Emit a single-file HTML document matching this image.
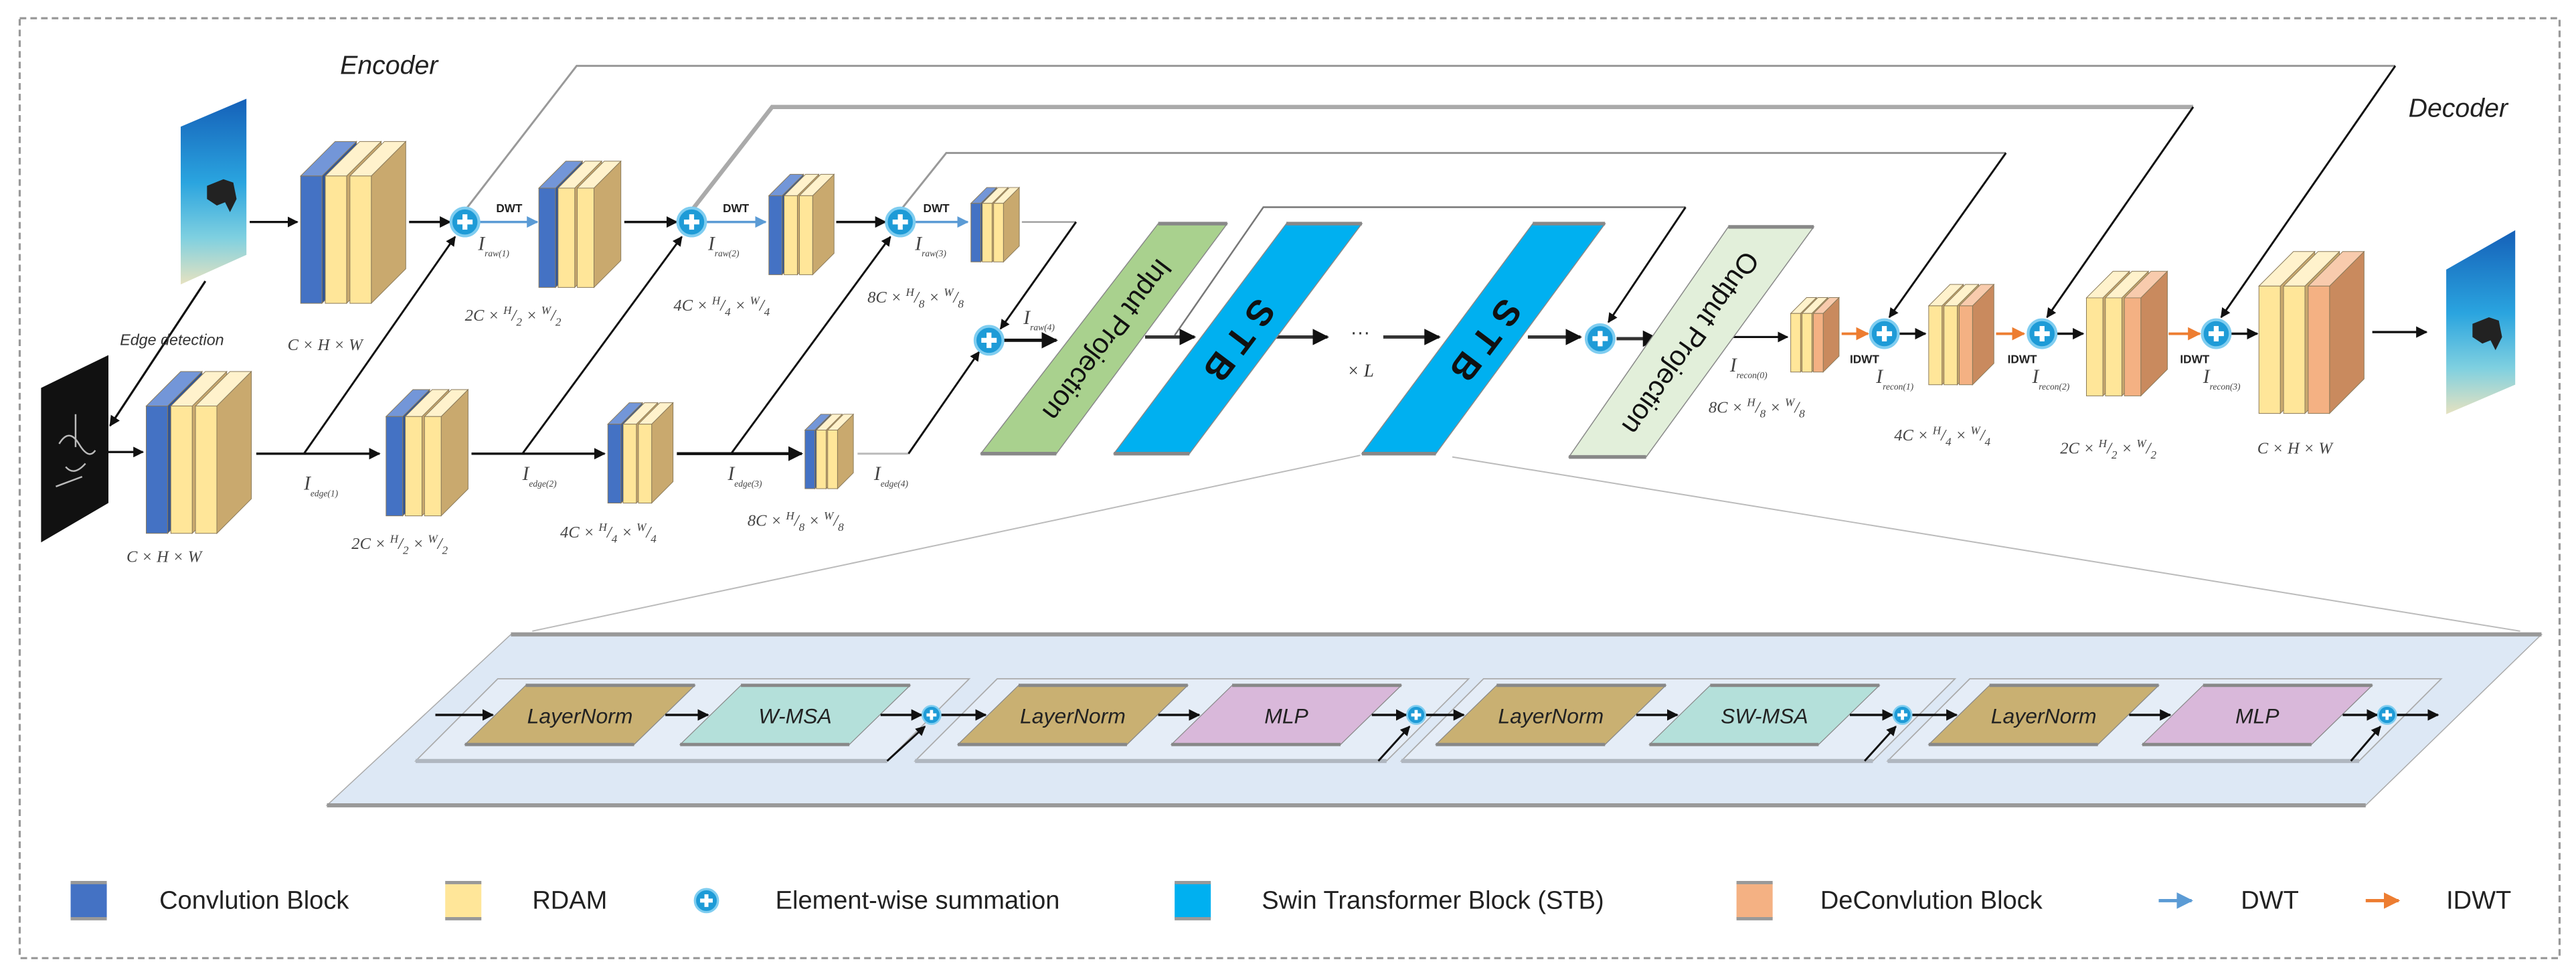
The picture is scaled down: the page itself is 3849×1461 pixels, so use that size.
<!DOCTYPE html>
<html><head><meta charset="utf-8"><style>
html,body{margin:0;padding:0;background:#fff;width:3849px;height:1461px;overflow:hidden}
svg{display:block}
.s{font-family:"Liberation Sans",sans-serif}
.m{font-family:"Liberation Serif",serif;font-style:italic;fill:#444}
</style></head><body>
<svg id="S" width="3849" height="1461" viewBox="0 0 1568 595" xmlns="http://www.w3.org/2000/svg">
<defs>
<marker id="ah" viewBox="0 0 10 10" refX="9" refY="5" markerWidth="5" markerHeight="5" orient="auto"><path d="M0,0L10,5L0,10z" fill="#111"/></marker>
<marker id="ahb" viewBox="0 0 10 10" refX="9" refY="5" markerWidth="5" markerHeight="5" orient="auto"><path d="M0,0L10,5L0,10z" fill="#5B9BD5"/></marker>
<marker id="aho" viewBox="0 0 10 10" refX="9" refY="5" markerWidth="5" markerHeight="5" orient="auto"><path d="M0,0L10,5L0,10z" fill="#ED7D31"/></marker>
<linearGradient id="sea" x1="0" y1="0" x2="0" y2="1"><stop offset="0" stop-color="#1560b8"/><stop offset="0.45" stop-color="#2aa4df"/><stop offset="0.75" stop-color="#7fd0e0"/><stop offset="1" stop-color="#e6e2c0"/></linearGradient>
</defs>
<rect x="12" y="11" width="1546" height="572" fill="none" stroke="#999" stroke-width="1.3" stroke-dasharray="4 2.5"/>
<g id="G"></g>
<!-- images -->
<polygon points="110,77 150,60 150,155 110,173" fill="url(#sea)"/>
<path d="M126,113 l10,-4 6,2 2,10 -4,8 -3,-6 -5,2 -6,-4z" fill="#222"/>
<polygon points="25,236 66,216 66,306 25,330" fill="#111"/>
<path d="M36,270 q6,-10 12,0 t10,4 M40,284 q5,6 12,-2 M46,252 l0,20 M34,296 l16,-6" stroke="#bbb" stroke-width="1" fill="none"/>
<polygon points="1489,164 1531,140 1531,234 1489,252" fill="url(#sea)"/>
<path d="M1505,197 l10,-4 6,2 2,10 -4,8 -3,-6 -5,2 -6,-4z" fill="#222"/>
<!-- texts -->
<text x="207" y="45" class="s" font-size="16" font-style="italic" fill="#222">Encoder</text>
<text x="1466" y="71" class="s" font-size="16" font-style="italic" fill="#222">Decoder</text>
<text x="73" y="210" class="s" font-size="9.5" font-style="italic" fill="#333">Edge detection</text>
<g class="m" font-size="10">
<text x="175" y="213">C × H × W</text>
<text x="77" y="342">C × H × W</text>
<text x="1374" y="276">C × H × W</text>
<text x="283" y="195">2C × <tspan dy="-4" font-size="7">H</tspan><tspan dy="4">/</tspan><tspan dy="3" font-size="7">2</tspan><tspan dy="-3"> × </tspan><tspan dy="-4" font-size="7">W</tspan><tspan dy="4">/</tspan><tspan dy="3" font-size="7">2</tspan></text>
<text x="214" y="334">2C × <tspan dy="-4" font-size="7">H</tspan><tspan dy="4">/</tspan><tspan dy="3" font-size="7">2</tspan><tspan dy="-3"> × </tspan><tspan dy="-4" font-size="7">W</tspan><tspan dy="4">/</tspan><tspan dy="3" font-size="7">2</tspan></text>
<text x="1254" y="276">2C × <tspan dy="-4" font-size="7">H</tspan><tspan dy="4">/</tspan><tspan dy="3" font-size="7">2</tspan><tspan dy="-3"> × </tspan><tspan dy="-4" font-size="7">W</tspan><tspan dy="4">/</tspan><tspan dy="3" font-size="7">2</tspan></text>
<text x="410" y="189">4C × <tspan dy="-4" font-size="7">H</tspan><tspan dy="4">/</tspan><tspan dy="3" font-size="7">4</tspan><tspan dy="-3"> × </tspan><tspan dy="-4" font-size="7">W</tspan><tspan dy="4">/</tspan><tspan dy="3" font-size="7">4</tspan></text>
<text x="341" y="327">4C × <tspan dy="-4" font-size="7">H</tspan><tspan dy="4">/</tspan><tspan dy="3" font-size="7">4</tspan><tspan dy="-3"> × </tspan><tspan dy="-4" font-size="7">W</tspan><tspan dy="4">/</tspan><tspan dy="3" font-size="7">4</tspan></text>
<text x="1153" y="268">4C × <tspan dy="-4" font-size="7">H</tspan><tspan dy="4">/</tspan><tspan dy="3" font-size="7">4</tspan><tspan dy="-3"> × </tspan><tspan dy="-4" font-size="7">W</tspan><tspan dy="4">/</tspan><tspan dy="3" font-size="7">4</tspan></text>
<text x="528" y="184">8C × <tspan dy="-4" font-size="7">H</tspan><tspan dy="4">/</tspan><tspan dy="3" font-size="7">8</tspan><tspan dy="-3"> × </tspan><tspan dy="-4" font-size="7">W</tspan><tspan dy="4">/</tspan><tspan dy="3" font-size="7">8</tspan></text>
<text x="455" y="320">8C × <tspan dy="-4" font-size="7">H</tspan><tspan dy="4">/</tspan><tspan dy="3" font-size="7">8</tspan><tspan dy="-3"> × </tspan><tspan dy="-4" font-size="7">W</tspan><tspan dy="4">/</tspan><tspan dy="3" font-size="7">8</tspan></text>
<text x="1040" y="251">8C × <tspan dy="-4" font-size="7">H</tspan><tspan dy="4">/</tspan><tspan dy="3" font-size="7">8</tspan><tspan dy="-3"> × </tspan><tspan dy="-4" font-size="7">W</tspan><tspan dy="4">/</tspan><tspan dy="3" font-size="7">8</tspan></text>
<text x="291" y="152" font-size="12">I<tspan dy="4" font-size="5.5">raw(1)</tspan></text>
<text x="431" y="152" font-size="12">I<tspan dy="4" font-size="5.5">raw(2)</tspan></text>
<text x="557" y="152" font-size="12">I<tspan dy="4" font-size="5.5">raw(3)</tspan></text>
<text x="623" y="197" font-size="12">I<tspan dy="4" font-size="5.5">raw(4)</tspan></text>
<text x="185" y="298" font-size="12">I<tspan dy="4" font-size="5.5">edge(1)</tspan></text>
<text x="318" y="292" font-size="12">I<tspan dy="4" font-size="5.5">edge(2)</tspan></text>
<text x="443" y="292" font-size="12">I<tspan dy="4" font-size="5.5">edge(3)</tspan></text>
<text x="532" y="292" font-size="12">I<tspan dy="4" font-size="5.5">edge(4)</tspan></text>
<text x="1053" y="226" font-size="12">I<tspan dy="4" font-size="5.5">recon(0)</tspan></text>
<text x="1142" y="233" font-size="12">I<tspan dy="4" font-size="5.5">recon(1)</tspan></text>
<text x="1237" y="233" font-size="12">I<tspan dy="4" font-size="5.5">recon(2)</tspan></text>
<text x="1341" y="233" font-size="12">I<tspan dy="4" font-size="5.5">recon(3)</tspan></text>
<text x="820" y="229" font-size="11" fill="#333">× L</text>
</g>
<g class="s" font-size="7" font-weight="bold" fill="#222">
<text x="302" y="129">DWT</text><text x="440" y="129">DWT</text><text x="562" y="129">DWT</text>
<text x="1126" y="221">IDWT</text><text x="1222" y="221">IDWT</text><text x="1327" y="221">IDWT</text>
</g>
<text x="822" y="206" class="s" font-size="12" fill="#333">···</text>
<g id="T"></g>
<!-- legend -->
<g class="s" font-size="15.5" fill="#222">
<text x="97" y="553">Convlution Block</text>
<text x="324" y="553">RDAM</text>
<text x="472" y="553">Element-wise summation</text>
<text x="768" y="553">Swin Transformer Block (STB)</text>
<text x="1108" y="553">DeConvlution Block</text>
<text x="1364" y="553">DWT</text>
<text x="1489" y="553">IDWT</text>
</g>
</svg>
<script>
const NS="http://www.w3.org/2000/svg",G=document.getElementById('G');
function el(t,a,p){const e=document.createElementNS(NS,t);for(const k in a)e.setAttribute(k,a[k]);(p||G).appendChild(e);return e;}
function poly(pts,f,st,sw){return el('polygon',{points:pts.map(p=>p.join(',')).join(' '),fill:f,stroke:st||'none','stroke-width':sw||0});}
function line(x1,y1,x2,y2,c,w,m){const a={x1,y1,x2,y2,stroke:c||'#111','stroke-width':w||1.3};if(m)a['marker-end']='url(#'+m+')';return el('line',a);}
function pl(pts,c,w,m){const a={points:pts.map(p=>p.join(',')).join(' '),fill:'none',stroke:c,'stroke-width':w};if(m)a['marker-end']='url(#'+m+')';return el('polyline',a);}
const C={b:['#4472C4','#7396D8','#2F5597'],y:['#FFE699','#FFF2CC','#C9A96E'],o:['#F4B183','#F8CBAD','#C98A5E']};
function block(x,yb,s,cols){const w=13*s,st=15*s,h=77.5*s,dx=21*s,dy=21*s,y=yb+dy;
 cols.forEach((c,i)=>{const fx=x+i*st,k=C[c];
  poly([[fx+w,y],[fx+w+dx,y-dy],[fx+w+dx,y+h-dy],[fx+w,y+h]],c==='b'?k[2]:(c==='o'?k[2]:'#C9A96E'),'#8a7a5a',0.4);
  poly([[fx,y],[fx+dx,y-dy],[fx+w+dx,y-dy],[fx+w,y]],k[1],'#8a7a5a',0.4);
  poly([[fx,y],[fx+w,y],[fx+w,y+h],[fx,y+h]],k[0],'#8a7a5a',0.4);});}
function plus(x,y,r){el('circle',{cx:x,cy:y,r:r,fill:'#1E9BD7',stroke:'#7fcdf0','stroke-width':r*0.2});
 line(x-r*0.55,y,x+r*0.55,y,'#fff',r*0.35);line(x,y-r*0.55,x,y+r*0.55,'#fff',r*0.35);}
// skip lines top
pl([[283,128],[351,40],[1458,40]],'#999',1.2);
pl([[421,128],[470,65],[1335,65]],'#aaa',2.6);
pl([[548,128],[576,93],[1221,93]],'#999',1.2);
line(1458,40,1352,193,'#111',1.2,'ah');
line(1335,65,1246,193,'#111',1.2,'ah');
line(1221,93,1150,193,'#111',1.2,'ah');
// STB bracket
pl([[715,204],[769,126],[1026,126]],'#777',1);
line(1026,126,979,196,'#111',1.2,'ah');
// funnel
line(828,277,324,384,'#bbb',0.8);line(884,278,1534,384,'#bbb',0.8);
// edge detection
line(125,171,67,259,'#111',1.3,'ah');
line(66,275,87,275,'#111',1.3,'ah');
line(152,135,181,135,'#111',1.3,'ah');
// encoder top row
line(249,135,274,135,'#111',1.4,'ah');line(291,135,327,135,'#5B9BD5',1.4,'ahb');
line(380,135,412,135,'#111',1.4,'ah');line(430,135,466,135,'#5B9BD5',1.4,'ahb');
line(509,135,539,135,'#111',1.4,'ah');line(557,135,589,135,'#5B9BD5',1.4,'ahb');
line(622,135,655,135,'#999',0.9);line(655,135,609,200,'#111',1.2,'ah');
// bottom row
line(156,276,231,276,'#111',1.4,'ah');line(287,276,368,276,'#111',1.4,'ah');
line(412,276,488,276,'#111',1.8,'ah');line(522,276,553,276,'#bbb',1.2);
line(185,276,277,144,'#111',1.2,'ah');line(318,276,415,144,'#111',1.2,'ah');
line(445,276,542,144,'#111',1.2,'ah');line(553,276,596,214,'#111',1.2,'ah');
// middle
line(611,207,643,207,'#111',2,'ah');
line(697,205,727,205,'#333',2,'ah');line(776,205,808,205,'#333',2,'ah');
line(842,205,876,205,'#333',2,'ah');line(930,205,962,205,'#333',2,'ah');
line(984,206,1009,206,'#333',2,'ah');line(1053,205,1088,205,'#111',1.3,'ah');
// decoder arrows
line(1121,203,1137,203,'#ED7D31',1.6,'aho');line(1156,203,1172,203,'#111',1.4,'ah');
line(1215,203,1232,203,'#ED7D31',1.6,'aho');line(1252,203,1268,203,'#111',1.4,'ah');
line(1320,203,1339,203,'#ED7D31',1.6,'aho');line(1358,203,1374,203,'#111',1.4,'ah');
line(1444,202,1477,202,'#111',1.4,'ah');
// parallelograms
function para(tl,tr,bl,br,ty,by,f){poly([[tl,ty],[tr,ty],[br,by],[bl,by]],f,'#888',0.6);line(tl,ty,tr,ty,'#888',2.2);line(bl,by,br,by,'#888',2.2);}
para(705,747,597,643,136,276,'#A9D18E');
para(783,829,678,724,136,276,'#00B0F0');
para(933,977,829,874,136,276,'#00B0F0');
para(1052,1104,955,1002,138,278,'#E2EFDA');
// blocks
block(183,86,1,['b','y','y']);block(328,98,0.78,['b','y','y']);block(468,106,0.62,['b','y','y']);block(591,114,0.46,['b','y','y']);
block(89,226,1,['b','y','y']);block(235,237,0.78,['b','y','y']);block(370,245,0.62,['b','y','y']);block(490,252,0.46,['b','y','y']);
block(1090,181,0.46,['y','y','o']);block(1174,173,0.62,['y','y','o']);block(1270,165,0.77,['y','y','o']);block(1375,153,1,['y','y','o']);
[[283,135],[421,135],[548,135],[602,207],[974,206],[1147,203],[1243,203],[1349,203]].forEach(p=>plus(p[0],p[1],8.5));
// panel
poly([[311,386],[1547,386],[1440,490],[199,490]],'#DDE8F5','#aaa',0.6);
line(311,386,1547,386,'#999',2.5);line(199,490,1440,490,'#999',2.5);
[253,557,853,1149].forEach(b=>{poly([[b+50,413],[b+337,413],[b+287,463],[b,463]],'#E5EDF7','#aaa',0.7);line(b,463,b+287,463,'#b0b7c0',2.5);});
const L=[[320,'#C9B072','LayerNorm'],[451,'#B4E0DA','W-MSA'],[620,'#C9B072','LayerNorm'],[750,'#D9B8DA','MLP'],[911,'#C9B072','LayerNorm'],[1041,'#B4E0DA','SW-MSA'],[1211,'#C9B072','LayerNorm'],[1341,'#D9B8DA','MLP']];
const T=document.getElementById('T');
L.forEach(b=>{const x=b[0];poly([[x,417],[x+103,417],[x+66,453],[x-37,453]],b[1],'#888',0.5);line(x,417,x+103,417,'#888',2);line(x-37,453,x+66,453,'#888',2);});
const P=[567,862,1158,1453];
line(265,435,300,435,'#111',1.4,'ah');
for(let i=0;i<4;i++){const a=L[2*i][0],b=L[2*i+1][0];
 line(a+85,435,b-20,435,'#111',1.4,'ah');line(b+85,435,P[i]-6,435,'#111',1.4,'ah');
 if(i<3)line(P[i]+6,435,L[2*i+2][0]-20,435,'#111',1.4,'ah');else line(P[i]+6,435,1484,435,'#111',1.4,'ah');
 const bx=[540,839,1135,1431][i];line(bx,463,P[i]-4,442,'#111',1.2,'ah');plus(P[i],435,5.5);}
// legend
function lsq(x,c){el('rect',{x:x,y:537,width:22,height:22,fill:c});line(x,537,x+22,537,'#999',2);line(x,559,x+22,559,'#999',2);}
lsq(43,'#4472C4');lsq(271,'#FFE699');lsq(715,'#00B0F0');lsq(1057,'#F4B183');plus(430,548,7);
line(1314,548,1334,548,'#5B9BD5',2,'ahb');line(1440,548,1460,548,'#ED7D31',2,'aho');
</script>
<svg width="0" height="0" style="position:absolute"></svg>
<div style="position:absolute;left:0;top:0;width:3849px;height:1461px;pointer-events:none">
<svg width="3849" height="1461" viewBox="0 0 1568 595" style="position:absolute;left:0;top:0">
<g font-family="Liberation Sans, sans-serif" fill="#111">
<text transform="translate(673,206) rotate(127)" text-anchor="middle" dominant-baseline="middle" font-size="17">Input Projection</text>
<text transform="translate(753,206) rotate(127)" text-anchor="middle" dominant-baseline="middle" font-size="22" font-weight="bold">S  T  B</text>
<text transform="translate(903,206) rotate(127)" text-anchor="middle" dominant-baseline="middle" font-size="22" font-weight="bold">S  T  B</text>
<text transform="translate(1028,208) rotate(125)" text-anchor="middle" dominant-baseline="middle" font-size="17">Output Projection</text>
</g>
<g font-family="Liberation Sans, sans-serif" font-style="italic" font-size="13" fill="#222" text-anchor="middle">
<text x="353" y="440">LayerNorm</text><text x="484" y="440">W-MSA</text>
<text x="653" y="440">LayerNorm</text><text x="783" y="440">MLP</text>
<text x="944" y="440">LayerNorm</text><text x="1074" y="440">SW-MSA</text>
<text x="1244" y="440">LayerNorm</text><text x="1374" y="440">MLP</text>
</g>
</svg></div>
</body></html>
